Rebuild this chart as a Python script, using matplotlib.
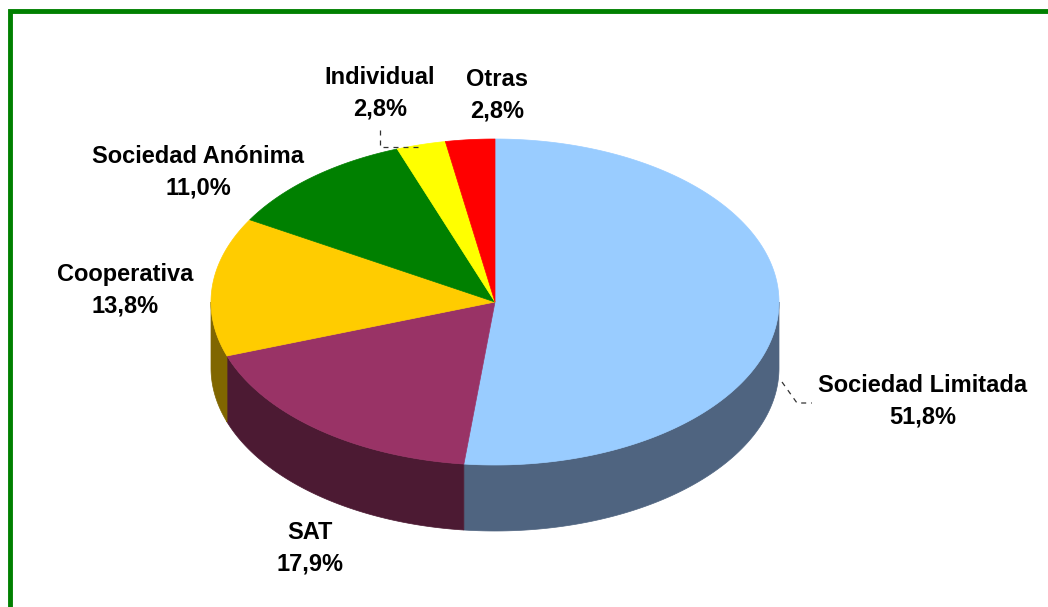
import numpy as np
import matplotlib

matplotlib.use("Agg")
import matplotlib.pyplot as plt
from matplotlib.patches import Polygon


# datos del grafico
categorias = ["Sociedad Limitada", "SAT", "Cooperativa", "Sociedad Anónima", "Individual", "Otras"]
porcentajes = [51.8, 17.9, 13.8, 11.0, 2.8, 2.8]
etiquetas = ["51,8%", "17,9%", "13,8%", "11,0%", "2,8%", "2,8%"]

colores_cara = ["#99CCFF", "#993366", "#FFCC00", "#008000", "#FFFF00", "#FF0000"]
colores_lado = ["#4F6480", "#4C1A33", "#806600", "#004000", "#808000", "#800000"]

# posicion de los textos (pixeles)
pos_textos = [(923, 401), (310, 548), (125, 290), (198, 172), (380, 93), (497, 95)]

# geometria de la tarta en pixeles
cx, cy = 495, 302
rx, ry = 284, 163
fondo = 66


def arco(a, b, n=200):
    th = np.linspace(a, b, n)
    t = np.radians(th)
    return np.column_stack([cx + rx * np.sin(t), cy - ry * np.cos(t)])


fig = plt.figure(figsize=(10.48, 6.07), dpi=100)
ax = fig.add_axes([0, 0, 1, 1])
ax.set_xlim(0, 1048)
ax.set_ylim(607, 0)
ax.axis("off")

total = sum(porcentajes)
angulos = np.cumsum([0] + [p / total * 360 for p in porcentajes])

# paredes laterales (solo la mitad delantera, 90..270 grados)
for i in range(len(porcentajes)):
    a = max(angulos[i], 90)
    b = min(angulos[i + 1], 270)
    if b <= a:
        continue
    sup = arco(a, b)
    inf = sup[::-1] + np.array([0, fondo])
    ax.add_patch(Polygon(np.vstack([sup, inf]), closed=True,
                         facecolor=colores_lado[i], edgecolor=colores_lado[i], lw=0.5))

# cara superior
for i in range(len(porcentajes)):
    pts = np.vstack([[cx, cy], arco(angulos[i], angulos[i + 1])])
    ax.add_patch(Polygon(pts, closed=True, facecolor=colores_cara[i],
                         edgecolor=colores_cara[i], lw=0.5))

# lineas guia
ax.plot([782, 797, 812], [382, 403, 403], color="#333333", lw=0.9, ls=(0, (4, 4)))
ax.plot([380, 380, 418], [130, 147, 147], color="#333333", lw=0.9, ls=(0, (4, 4)))

for nombre, valor, (x, y) in zip(categorias, etiquetas, pos_textos):
    ax.text(x, y, f"{nombre}\n{valor}", ha="center", va="center",
            fontsize=17, fontweight="bold", family="Liberation Sans",
            linespacing=1.45)

# borde verde
ax.plot([10, 10, 1048], [607, 11, 11], color="#008000", lw=3.5,
        solid_joinstyle="miter", clip_on=False)

fig.savefig("out.png", dpi=100, facecolor="white")
